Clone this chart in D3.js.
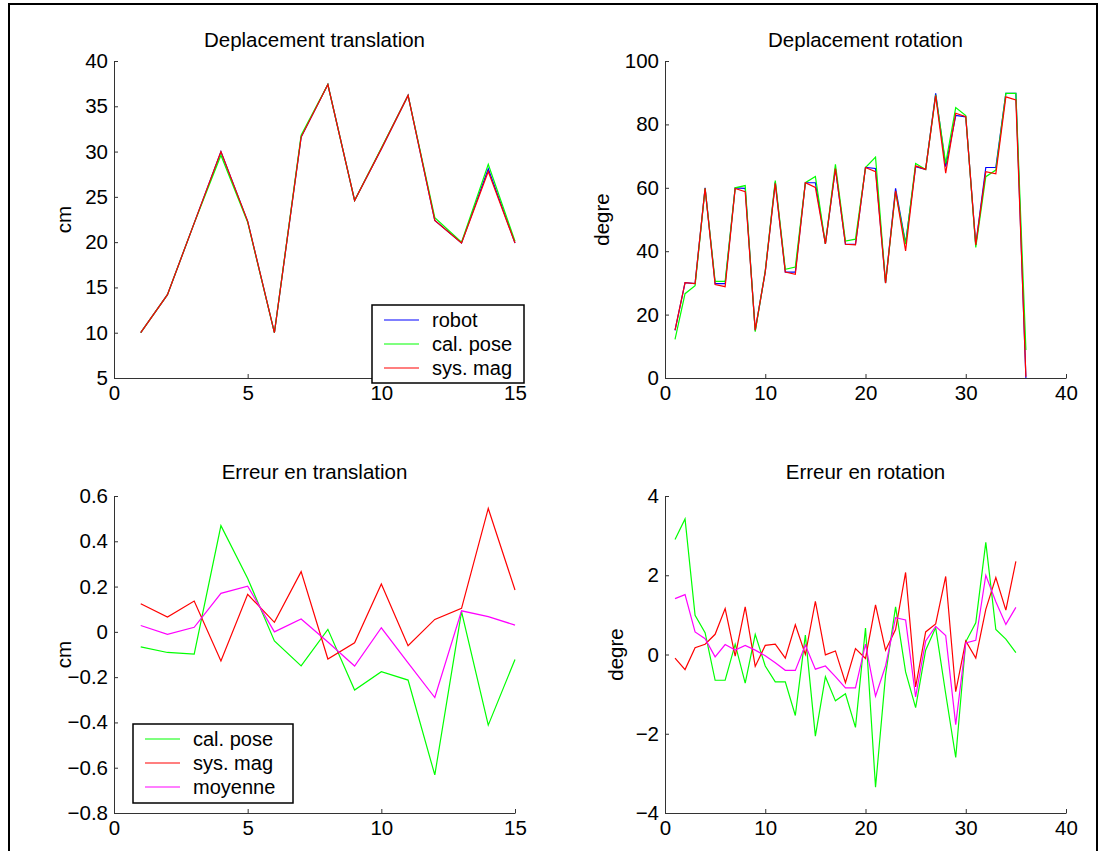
<!DOCTYPE html>
<html>
<head>
<meta charset="utf-8">
<script src="https://cdn.jsdelivr.net/npm/d3@7"></script>
<style>
  body { margin: 0; background: #fff; }
  svg { display: block; }
  text { font-family: "Liberation Sans", Arial, sans-serif; font-size: 20.5px; fill: #000; }
  .axis path, .axis line { stroke: #333; }
</style>
</head>
<body>
<svg id="fig" width="1101" height="851"></svg>
<script>
// Deplacement translation (cm), essais 1..15
var transX = d3.range(1, 16);
var transRobot = [10.0, 14.2, 22.1, 30.0, 22.3, 10.0, 31.6, 37.4, 24.6, 30.3, 36.2, 22.4, 19.9, 28.1, 19.9];
var transPose  = [10.0, 14.2, 22.1, 29.6, 22.2, 10.0, 31.8, 37.4, 24.6, 30.4, 36.2, 22.7, 20.0, 28.6, 20.1];
var transMag   = [10.0, 14.2, 22.1, 30.0, 22.3, 10.0, 31.6, 37.4, 24.6, 30.3, 36.2, 22.4, 19.9, 27.8, 19.9];

// Deplacement rotation (degre), essais 1..36
var rotX = d3.range(1, 37);
var rotRobot = [15.0, 30.1, 29.8, 60.0, 29.8, 29.8, 60.0, 59.8, 15.0, 33.5, 61.8, 33.4, 33.4, 61.6, 61.6, 42.3, 66.1, 42.2, 42.2, 66.4,
                66.1, 30.0, 59.8, 42.5, 66.7, 65.8, 89.8, 66.7, 82.8, 82.4, 42.0, 66.4, 66.4, 89.8, 89.8, 0.0];
var rotPose  = [12.2, 26.6, 29.1, 59.8, 30.5, 30.5, 60.0, 60.7, 14.6, 33.8, 62.3, 34.3, 35.0, 61.6, 63.6, 42.3, 67.4, 43.2, 43.8, 66.4,
                69.7, 30.0, 58.8, 42.2, 67.7, 65.8, 89.3, 67.7, 85.3, 82.8, 41.2, 63.5, 65.6, 89.8, 89.8, 8.8];
var rotMag   = [15.1, 30.1, 29.8, 59.8, 29.5, 28.8, 59.8, 58.8, 15.1, 33.5, 61.4, 33.4, 32.7, 61.6, 60.1, 42.3, 66.1, 42.2, 42.0, 66.4,
                65.1, 29.9, 59.0, 40.1, 66.9, 65.8, 89.1, 64.6, 83.5, 82.4, 42.0, 65.1, 64.4, 88.7, 87.7, 0.4];

// Erreur en translation (cm)
var errTX = d3.range(1, 16);
var errTPose = [-0.066, -0.091, -0.098, 0.469, 0.236, -0.040, -0.150, 0.011, -0.257, -0.176, -0.213, -0.632, 0.089, -0.412, -0.122];
var errTMag  = [0.124, 0.065, 0.136, -0.129, 0.166, 0.042, 0.266, -0.120, -0.048, 0.211, -0.061, 0.055, 0.104, 0.545, 0.185];
var errTMoy  = [0.028, -0.011, 0.020, 0.170, 0.202, 0.000, 0.057, -0.045, -0.151, 0.018, -0.137, -0.290, 0.093, 0.067, 0.030];

// Erreur en rotation (degre)
var errRX = d3.range(1, 36);
var errRPose = [2.90, 3.42, 0.99, 0.55, -0.65, -0.65, 0.26, -0.72, 0.51, -0.29, -0.69, -0.69, -1.54, 0.49, -2.06, -0.56, -1.17, -0.99, -1.84, 0.67,
                -3.35, -0.52, 1.20, -0.44, -1.34, 0.11, 0.68, -0.99, -2.60, 0.32, 0.80, 2.83, 0.63, 0.39, 0.05];
var errRMag  = [-0.09, -0.38, 0.17, 0.26, 0.51, 1.16, -0.04, 1.20, -0.30, 0.23, 0.26, -0.09, 0.75, 0.00, 1.34, -0.01, 0.09, -0.71, 0.15, -0.10,
                1.25, 0.11, 0.63, 2.07, -0.82, 0.57, 0.77, 1.97, -0.94, 0.34, -0.09, 1.14, 1.94, 1.12, 2.35];
var errRMoy  = [1.41, 1.51, 0.57, 0.40, -0.06, 0.25, 0.11, 0.23, 0.11, -0.03, -0.21, -0.40, -0.40, 0.24, -0.37, -0.29, -0.56, -0.84, -0.84, 0.26,
                -1.05, -0.29, 0.93, 0.87, -1.07, 0.34, 0.71, 0.48, -1.77, 0.29, 0.36, 2.00, 1.33, 0.76, 1.19];

// tick labels
var ticksX15 = [0, 5, 10, 15];
var ticksX40 = [0, 10, 20, 30, 40];
var ticksTransY = [5, 10, 15, 20, 25, 30, 35, 40];
var ticksRotY = [0, 20, 40, 60, 80, 100];
var ticksErrTY = [-0.8, -0.6, -0.4, -0.2, 0, 0.2, 0.4, 0.6];
var ticksErrRY = [-4, -2, 0, 2, 4];

var svg = d3.select("#fig");

// figure frame (cut at the bottom in the original)
svg.append("path")
  .attr("d", "M9,851V4H1097V851")
  .attr("fill", "none")
  .attr("stroke", "#000")
  .attr("stroke-width", 2);

var fmtErr = function(d) { return d === 0 ? "0" : d3.format(".1f")(d); };

function drawPanel(p) {
  var x = d3.scaleLinear().domain(p.xDomain).range([p.left, p.left + p.width]);
  var y = d3.scaleLinear().domain(p.yDomain).range([p.top + p.height, p.top]);

  var g = svg.append("g");

  g.append("g")
    .attr("class", "axis")
    .attr("transform", "translate(0," + (p.top + p.height) + ")")
    .call(d3.axisBottom(x).tickValues(p.xTicks).tickSize(-4).tickSizeOuter(0).tickPadding(7))
    .call(function(a) { a.selectAll("text").style("font-size", "20.5px").attr("fill", "#000"); });

  g.append("g")
    .attr("class", "axis")
    .attr("transform", "translate(" + p.left + ",0)")
    .call(d3.axisLeft(y).tickValues(p.yTicks).tickSize(-4).tickSizeOuter(0).tickPadding(6)
      .tickFormat(p.yFormat || null))
    .call(function(a) { a.selectAll("text").style("font-size", "20.5px").attr("fill", "#000"); });

  var line = d3.line()
    .x(function(d) { return x(d[0]); })
    .y(function(d) { return y(d[1]); });

  p.series.forEach(function(s) {
    g.append("path")
      .datum(p.xs.map(function(v, i) { return [v, s.values[i]]; }))
      .attr("fill", "none")
      .attr("stroke", s.color)
      .attr("stroke-width", 1.2)
      .attr("stroke-linejoin", "miter")
      .attr("d", line);
  });

  g.append("text")
    .attr("x", p.left + p.width / 2)
    .attr("y", p.titleY)
    .attr("text-anchor", "middle")
    .text(p.title);

  g.append("text")
    .attr("transform", "translate(" + p.yLabelX + "," + (p.top + p.height / 2) + ") rotate(-90)")
    .attr("text-anchor", "middle")
    .text(p.yLabel);

  if (p.legend) {
    var L = p.legend;
    var lg = g.append("g").attr("transform", "translate(" + L.x + "," + L.y + ")");
    lg.append("rect")
      .attr("width", L.w).attr("height", L.h)
      .attr("fill", "#fff").attr("stroke", "#000").attr("stroke-width", 1.5);
    p.series.forEach(function(s, i) {
      var cy = 15 + i * 24;
      lg.append("line")
        .attr("x1", 12).attr("x2", 47).attr("y1", cy).attr("y2", cy)
        .attr("stroke", s.color).attr("stroke-width", 1.2);
      lg.append("text")
        .attr("x", 60).attr("y", cy + 7)
        .style("font-size", "20px")
        .text(s.name);
    });
  }
}

drawPanel({
  left: 114, top: 61, width: 401, height: 317,
  xDomain: [0, 15], yDomain: [5, 40], xTicks: ticksX15, yTicks: ticksTransY,
  xs: transX, title: "Deplacement translation", titleY: 47, yLabel: "cm", yLabelX: 71,
  series: [
    { name: "robot", color: "#0000ff", values: transRobot },
    { name: "cal. pose", color: "#00ff00", values: transPose },
    { name: "sys. mag", color: "#ff0000", values: transMag }
  ],
  legend: { x: 372, y: 305, w: 152, h: 78 }
});

drawPanel({
  left: 665, top: 61, width: 401, height: 317,
  xDomain: [0, 40], yDomain: [0, 100], xTicks: ticksX40, yTicks: ticksRotY,
  xs: rotX, title: "Deplacement rotation", titleY: 47, yLabel: "degre", yLabelX: 609,
  series: [
    { name: "robot", color: "#0000ff", values: rotRobot },
    { name: "cal. pose", color: "#00ff00", values: rotPose },
    { name: "sys. mag", color: "#ff0000", values: rotMag }
  ]
});

drawPanel({
  left: 114, top: 496, width: 401, height: 317,
  xDomain: [0, 15], yDomain: [-0.8, 0.6], xTicks: ticksX15, yTicks: ticksErrTY, yFormat: fmtErr,
  xs: errTX, title: "Erreur en translation", titleY: 479, yLabel: "cm", yLabelX: 71,
  series: [
    { name: "cal. pose", color: "#00ff00", values: errTPose },
    { name: "sys. mag", color: "#ff0000", values: errTMag },
    { name: "moyenne", color: "#ff00ff", values: errTMoy }
  ],
  legend: { x: 133, y: 724, w: 160, h: 79 }
});

drawPanel({
  left: 665, top: 496, width: 401, height: 317,
  xDomain: [0, 40], yDomain: [-4, 4], xTicks: ticksX40, yTicks: ticksErrRY,
  xs: errRX, title: "Erreur en rotation", titleY: 479, yLabel: "degre", yLabelX: 623,
  series: [
    { name: "cal. pose", color: "#00ff00", values: errRPose },
    { name: "sys. mag", color: "#ff0000", values: errRMag },
    { name: "moyenne", color: "#ff00ff", values: errRMoy }
  ]
});
</script>
</body>
</html>
